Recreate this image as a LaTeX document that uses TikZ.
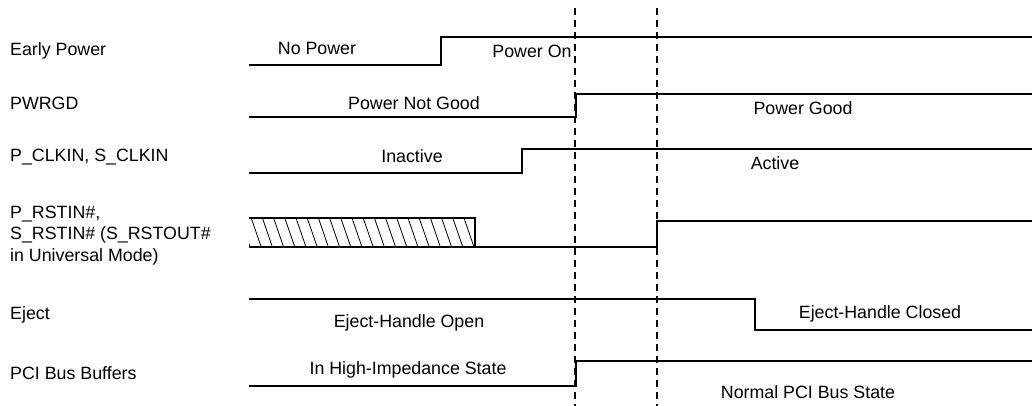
\documentclass[tikz,border=0pt]{standalone}
\usepackage{fontspec}
\setmainfont{Liberation Sans}
\begin{document}
\begin{tikzpicture}[x=1pt,y=-1pt,
  sig/.style={line width=2.9pt,line cap=butt,line join=miter},
  guide/.style={line width=1.4pt,dash pattern=on 7pt off 5pt},
  hatch/.style={line width=0.8pt},
  lbl/.style={anchor=base west,inner sep=0pt,font=\fontsize{17.8}{21}\selectfont},
  txt/.style={anchor=base,inner sep=0pt,font=\fontsize{17.8}{21}\selectfont}]
\useasboundingbox (0,0) rectangle (1032,406);
% guides
\coordinate (g1t) at (575,8); \coordinate (g1b) at (575,406);
\coordinate (g2t) at (657,8); \coordinate (g2b) at (657,406);
\draw[guide] (g1t) -- (g1b);
\draw[guide] (g2t) -- (g2b);
% left labels
\node[lbl] (l1) at (10,56) {Early Power};
\node[lbl] (l2) at (10,110) {PWRGD};
\node[lbl] (l3) at (10,161) {P\_CLKIN, S\_CLKIN};
\node[lbl] (l4a) at (10,218) {P\_RSTIN\#,};
\node[lbl] (l4b) at (10,239.5) {S\_RSTIN\# (S\_RSTOUT\#};
\node[lbl] (l4c) at (10,261) {in Universal Mode)};
\node[lbl] (l5) at (10,319) {Eject};
\node[lbl] (l6) at (10,379) {PCI Bus Buffers};
% Early Power
\draw[sig] (249,65) -- (441,65) -- (441,37) -- (1032,37);
\node[txt] (t1a) at (317,55) {No Power};
\node[txt] (t1b) at (532,58) {Power On};
% PWRGD
\draw[sig] (249,117) -- (576,117) -- (576,94) -- (1032,94);
\node[txt] (t2a) at (414,110) {Power Not Good};
\node[txt] (t2b) at (803,115) {Power Good};
% CLKIN
\draw[sig] (249,173) -- (522,173) -- (522,149) -- (1032,149);
\node[txt] (t3a) at (412,163) {Inactive};
\node[txt] (t3b) at (775,170) {Active};
% RSTIN
\begin{scope}
\clip (249,218) rectangle (475,247);
\foreach \i in {0,...,21} {
  \draw[hatch] ({240+\i*11.2},218) -- ({250+\i*11.2},247);
}
\end{scope}
\draw[sig] (249,218) -- (475,218) -- (475,247);
\draw[sig] (249,247) -- (657,247) -- (657,221) -- (1032,221);
% Eject
\draw[sig] (249,299) -- (755,299) -- (755,330) -- (1032,330);
\node[txt] (t5a) at (409,327) {Eject-Handle Open};
\node[txt] (t5b) at (880,318) {Eject-Handle Closed};
% PCI
\draw[sig] (249,386) -- (576,386) -- (576,361) -- (1032,361);
\node[txt] (t6a) at (408,374) {In High-Impedance State};
\node[txt] (t6b) at (808,398) {Normal PCI Bus State};
\end{tikzpicture}
\end{document}
